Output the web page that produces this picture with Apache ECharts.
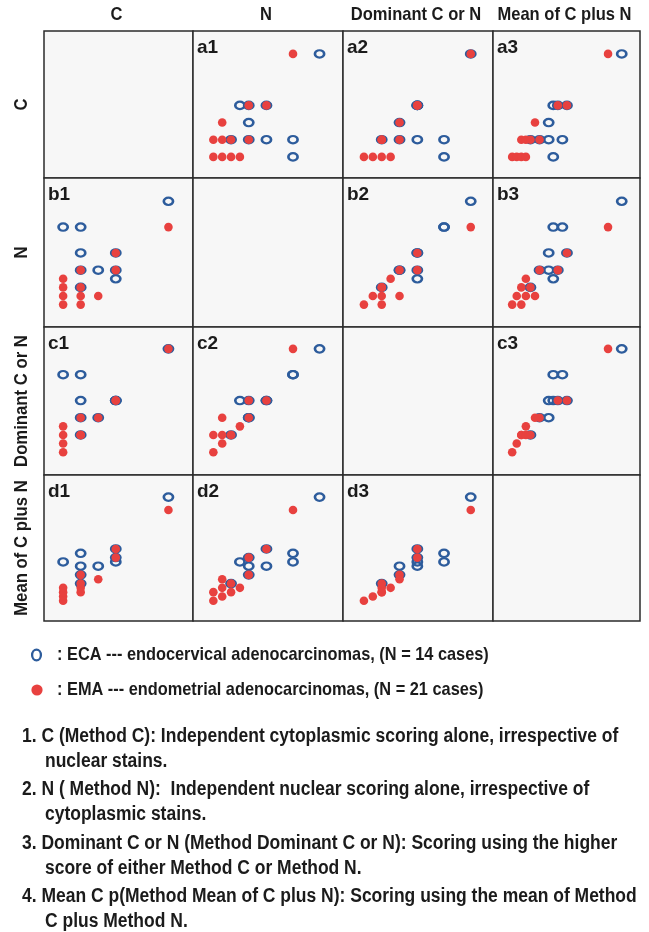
<!DOCTYPE html>
<html><head><meta charset="utf-8">
<script src="https://cdn.jsdelivr.net/npm/echarts@6/dist/echarts.min.js"></script>
<style>html,body{margin:0;padding:0;background:#fff}#c{width:649px;height:932px}</style>
</head><body><div id="c"></div>
<script>
// ---- data (scores, common score scale) ----
const variables = ['C', 'N', 'Dominant C or N', 'Mean of C plus N'];
// ECA: endocervical adenocarcinomas (distinct visible cases)
const ecaC    = [0, 2, 2, 2, 2, 4, 6, 6, 6, 12];
const ecaN    = [9, 2, 4, 6, 9, 4, 3, 4, 6, 12];
const ecaDom  = [9, 2, 4, 6, 9, 4, 6, 6, 6, 12];
const ecaMean = [4.5, 2, 3, 4, 5.5, 4, 4.5, 5, 6, 12];
// EMA: endometrial adenocarcinomas (distinct visible cases)
const emaC    = [0, 0, 0, 0, 2, 2, 2, 2, 4, 6, 6, 12];
const emaN    = [0, 1, 2, 3, 0, 1, 2, 4, 1, 4, 6, 9];
const emaDom  = [0, 1, 2, 3, 2, 2, 2, 4, 4, 6, 6, 12];
const emaMean = [0, 0.5, 1, 1.5, 1, 1.5, 2, 3, 2.5, 5, 6, 10.5];
const panelLabels = [
  [null, 'a1', 'a2', 'a3'],
  ['b1', null, 'b2', 'b3'],
  ['c1', 'c2', null, 'c3'],
  ['d1', 'd2', 'd3', null]
];
const legendTexts = [
  ': ECA --- endocervical adenocarcinomas, (N = 14 cases)',
  ': EMA --- endometrial adenocarcinomas, (N = 21 cases)'
];
const notes = [
  ['1. C (Method C): Independent cytoplasmic scoring alone, irrespective of', 'nuclear stains.'],
  ['2. N ( Method N):  Independent nuclear scoring alone, irrespective of', 'cytoplasmic stains.'],
  ['3. Dominant C or N (Method Dominant C or N): Scoring using the higher', 'score of either Method C or Method N.'],
  ['4. Mean C p(Method Mean of C plus N): Scoring using the mean of Method', 'C plus Method N.']
];

// ---- layout ----
const BLUE = '#2d5c9c', RED = '#e8413f', INK = '#1b1b1b';
const colEdges = [44, 193, 343, 493, 640];
const rowEdges = [31, 178, 327, 475, 621];
const colRange = [[-2.18, 14.8], [-2.3, 14.65], [-2.35, 14.5], [-2.1, 14.0]];
const rowRange = [[-2.46, 14.67], [-2.6, 14.7], [-2.65, 14.54], [-2.34, 14.56]];
const ecaVars = [ecaC, ecaN, ecaDom, ecaMean];
const emaVars = [emaC, emaN, emaDom, emaMean];
const FONT = "'Liberation Sans', Arial, sans-serif";

const grid = [], xAxis = [], yAxis = [], series = [], graphic = [];
let k = 0;
for (let i = 0; i < 4; i++) {
  for (let j = 0; j < 4; j++) {
    grid.push({
      left: colEdges[j], top: rowEdges[i],
      width: colEdges[j + 1] - colEdges[j], height: rowEdges[i + 1] - rowEdges[i],
      show: true, backgroundColor: '#f7f7f7', borderColor: '#2b2b2b', borderWidth: 1.5,
      containLabel: false
    });
    xAxis.push({ gridIndex: k, type: 'value', min: colRange[j][0], max: colRange[j][1], show: false });
    yAxis.push({ gridIndex: k, type: 'value', min: rowRange[i][0], max: rowRange[i][1], show: false });
    if (i !== j) {
      series.push({
        type: 'scatter', xAxisIndex: k, yAxisIndex: k, z: 2,
        symbol: 'circle', symbolSize: [9.2, 7.4],
        itemStyle: { color: 'rgba(255,255,255,0)', borderColor: BLUE, borderWidth: 2.4, opacity: 1 },
        emphasis: { disabled: true }, animation: false,
        data: ecaVars[j].map((v, n) => [v, ecaVars[i][n]])
      });
      series.push({
        type: 'scatter', xAxisIndex: k, yAxisIndex: k, z: 3,
        symbol: 'circle', symbolSize: 8.6,
        itemStyle: { color: RED, opacity: 1 },
        emphasis: { disabled: true }, animation: false,
        data: emaVars[j].map((v, n) => [v, emaVars[i][n]])
      });
      graphic.push({
        type: 'text', x: colEdges[j] + 4, y: rowEdges[i] + 17, z: 10,
        style: { text: panelLabels[i][j], font: "bold 19px " + FONT, fill: INK, textAlign: 'left', textVerticalAlign: 'middle' }
      });
    }
    k++;
  }
}
function label(text, x, y, size, sx, align, rot) {
  graphic.push({
    type: 'text', x: x, y: y, scaleX: sx, rotation: rot || 0,
    style: { text: text, font: 'bold ' + size + 'px ' + FONT, fill: INK, textAlign: align, textVerticalAlign: 'middle' }
  });
}
// column headers
for (let j = 0; j < 4; j++) label(variables[j], (colEdges[j] + colEdges[j + 1]) / 2 - 2, 15, 19, 0.87, 'center');
// row headers (rotated)
for (let i = 0; i < 4; i++) label(variables[i], 22, (rowEdges[i] + rowEdges[i + 1]) / 2, 19, 0.88, 'center', Math.PI / 2);
// legend
graphic.push({ type: 'ellipse', shape: { cx: 36.5, cy: 655, rx: 4.4, ry: 5.4 }, style: { fill: 'none', stroke: BLUE, lineWidth: 2.3 } });
graphic.push({ type: 'circle', shape: { cx: 37, cy: 690, r: 5.6 }, style: { fill: RED } });
[655, 690].forEach((y, n) => label(legendTexts[n], 57, y, 19, 0.86, 'left'));
// notes
const noteY = [[736, 761], [789, 814], [843, 868], [896, 921]];
notes.forEach((pair, n) => {
  label(pair[0], 22, noteY[n][0], 20, 0.874, 'left');
  label(pair[1], 45, noteY[n][1], 20, 0.874, 'left');
});

const chart = echarts.init(document.getElementById('c'), null, { renderer: 'canvas' });
chart.setOption({ animation: false, backgroundColor: '#ffffff', grid, xAxis, yAxis, series, graphic });
</script></body></html>
